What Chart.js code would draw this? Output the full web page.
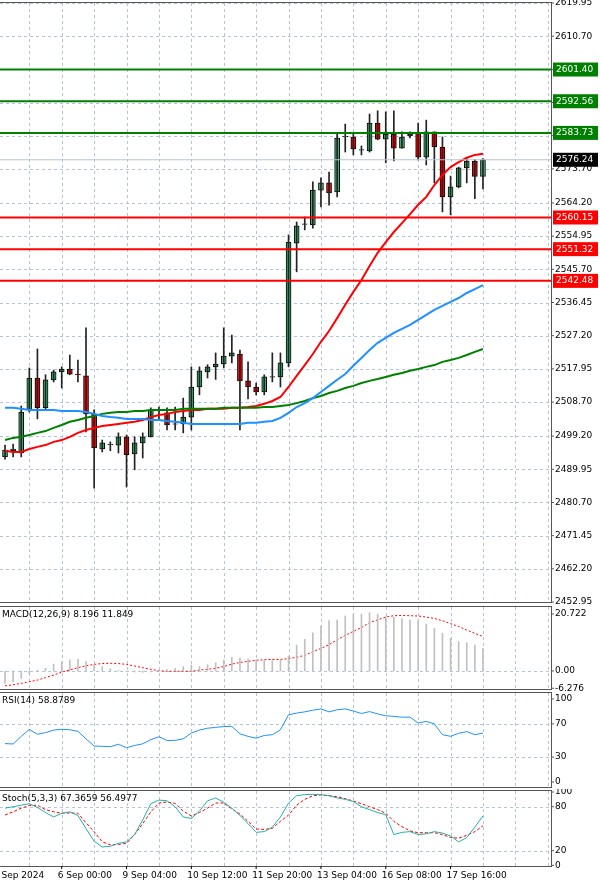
<!DOCTYPE html>
<html>
<head>
<meta charset="utf-8">
<script src="https://cdn.jsdelivr.net/npm/chart.js@4.4.1/dist/chart.umd.min.js"></script>
<style>
  html, body { margin: 0; padding: 0; background: #fff; }
  #wrap { position: relative; width: 600px; height: 886px; overflow: hidden; }
  .pane { position: absolute; left: 0; width: 600px; }
</style>
</head>
<body>
<div id="wrap">
  <div class="pane" style="top:0;height:605px"><canvas id="c-main"></canvas></div>
  <div class="pane" style="top:605px;height:86px"><canvas id="c-macd"></canvas></div>
  <div class="pane" style="top:691px;height:98px"><canvas id="c-rsi"></canvas></div>
  <div class="pane" style="top:789px;height:97px"><canvas id="c-stoch"></canvas></div>
</div>
<script>
// -- data --------------------------------------------------------------

const opens  = [2493.4,2495.1,2494.5,2506.5,2515.4,2507.1,2514.9,2517.1,2517.9,2516.5,2516.0,2505.4,2495.6,2496.8,2496.7,2499.0,2494.2,2497.3,2499.0,2506.5,2505.7,2502.6,2502.6,2504.5,2512.9,2517.1,2518.5,2519.3,2521.5,2522.1,2514.6,2512.9,2511.5,2515.6,2515.7,2519.6,2553.0,2558.2,2558.1,2567.8,2569.8,2567.3,2582.6,2582.6,2578.9,2578.7,2586.5,2582.0,2583.4,2579.5,2582.9,2583.7,2577.0,2584.0,2579.8,2565.9,2568.7,2574.0,2575.9,2571.6];
const highs  = [2496.7,2497.0,2507.6,2518.2,2523.5,2516.3,2517.6,2518.5,2521.8,2520.4,2529.4,2506.5,2498.1,2497.6,2500.1,2499.5,2499.0,2500.1,2507.1,2507.3,2507.1,2507.3,2509.8,2518.5,2518.5,2519.1,2522.4,2529.4,2527.4,2523.2,2519.9,2514.0,2516.3,2522.4,2522.4,2555.3,2558.9,2560.3,2570.1,2571.2,2572.8,2583.7,2586.2,2583.4,2580.1,2589.0,2589.9,2589.6,2589.9,2584.0,2584.0,2586.5,2587.3,2584.0,2582.6,2571.7,2574.2,2576.6,2576.3,2576.6];
const lows   = [2492.8,2493.4,2493.4,2505.9,2504.0,2506.5,2514.3,2512.6,2516.3,2514.3,2500.4,2484.7,2494.8,2495.1,2494.5,2485.0,2489.8,2493.1,2499.0,2503.7,2500.9,2500.9,2500.1,2500.9,2510.7,2515.4,2515.0,2518.2,2519.6,2500.9,2509.6,2510.7,2510.7,2514.3,2512.9,2518.5,2545.0,2556.7,2557.2,2563.1,2563.6,2565.9,2578.4,2577.6,2577.6,2578.4,2581.8,2575.4,2575.9,2579.5,2582.3,2576.2,2574.8,2569.8,2561.7,2560.9,2568.4,2569.8,2565.4,2568.1];
const closes = [2495.3,2495.6,2505.9,2515.4,2507.1,2514.9,2517.1,2517.9,2516.5,2516.3,2505.4,2495.9,2497.3,2496.9,2499.0,2494.0,2497.3,2499.0,2506.5,2506.6,2502.3,2502.5,2504.5,2512.9,2517.4,2518.5,2519.3,2521.5,2522.4,2514.6,2512.9,2511.5,2515.7,2515.8,2519.6,2553.3,2557.8,2558.4,2567.8,2569.8,2567.0,2582.3,2582.8,2579.3,2579.1,2586.5,2582.0,2583.4,2579.5,2582.6,2583.4,2577.0,2584.0,2579.8,2565.9,2568.7,2574.0,2575.9,2571.6,2576.2];

const maRed   = [2495.1,2494.8,2494.8,2495.6,2496.2,2496.7,2497.6,2498.1,2499.0,2500.1,2500.9,2501.5,2502.0,2502.3,2502.6,2502.9,2503.2,2503.7,2504.5,2505.1,2505.4,2505.9,2506.2,2506.5,2506.5,2506.8,2506.8,2506.8,2507.1,2507.1,2507.3,2507.6,2508.2,2509.0,2510.1,2512.9,2516.0,2519.0,2522.1,2525.5,2528.5,2532.1,2535.8,2539.4,2542.7,2546.6,2550.3,2553.3,2556.1,2558.6,2561.1,2563.7,2565.9,2569.2,2572.0,2574.2,2575.6,2576.8,2577.6,2577.9];
const maBlue  = [2507.1,2507.1,2506.8,2506.5,2506.5,2506.5,2506.5,2506.2,2506.2,2506.2,2505.9,2505.4,2504.8,2504.5,2504.3,2504.0,2504.0,2504.0,2503.7,2503.7,2503.4,2503.2,2502.9,2502.6,2502.6,2502.6,2502.6,2502.6,2502.6,2502.6,2502.9,2502.9,2503.2,2503.4,2504.3,2505.7,2507.3,2508.4,2509.8,2511.5,2513.2,2514.9,2516.5,2518.8,2521.0,2523.2,2525.2,2526.6,2528.0,2529.1,2530.2,2531.6,2533.0,2534.4,2535.5,2536.6,2537.7,2539.1,2540.2,2541.3];
const maGreen = [2498.1,2498.7,2499.0,2499.5,2500.1,2500.6,2501.5,2502.3,2503.2,2503.7,2504.3,2504.8,2505.4,2505.7,2505.9,2505.9,2506.2,2506.2,2506.5,2506.5,2506.5,2506.5,2506.8,2506.8,2506.8,2506.8,2506.8,2507.1,2507.1,2507.1,2507.1,2507.1,2507.3,2507.3,2507.6,2507.9,2508.4,2509.0,2509.8,2510.4,2511.2,2511.8,2512.6,2513.2,2514.0,2514.6,2515.1,2515.7,2516.3,2516.8,2517.4,2517.9,2518.5,2519.0,2519.9,2520.4,2521.0,2521.8,2522.7,2523.5];

const resistLevels = [2601.40, 2592.56, 2583.73];
const supportLevels = [2560.15, 2551.32, 2542.48];
const lastPrice = 2576.24;
const priceTicks = [2619.95,2610.70,2601.45,2592.20,2582.95,2573.70,2564.20,2554.95,2545.70,2536.45,2527.20,2517.95,2508.70,2499.20,2489.95,2480.70,2471.45,2462.20,2452.95];

const macdHist = [-4.5,-3.9,-2.7,-1.2,0.3,1.0,2.5,3.4,4.0,4.2,3.4,2.5,1.6,0.8,0.2,-0.2,-0.4,-0.5,-0.3,0.1,0.5,1.0,1.6,2.2,1.6,2.3,3.0,4.0,5.0,4.7,4.3,4.1,3.9,3.8,4.0,5.5,9.4,11.5,13.9,16.4,18.3,18.5,20.0,20.6,20.7,21.2,20.7,20.0,19.5,19.1,18.5,18.3,17.1,15.5,13.7,11.9,10.7,10.3,9.4,8.2];
const macdSignal = [-5.4,-5.0,-4.5,-3.9,-3.3,-2.4,-1.5,-0.4,0.4,1.2,1.9,2.4,2.7,2.8,2.7,2.4,1.8,1.2,0.6,0.1,-0.1,-0.1,-0.1,-0.1,0.3,0.6,1.0,1.6,2.5,3.1,3.5,3.9,4.1,4.2,4.2,4.5,5.0,5.7,7.0,8.2,9.6,11.3,13.0,14.4,15.8,17.6,18.6,19.6,20.1,20.2,20.1,20.0,19.6,19.1,18.3,17.2,16.2,14.9,13.7,12.5];
const macdTicks = [20.722, 0.00, -6.276];

const rsi = [46.3,45.8,55,63.3,57.5,59.5,62.5,63.5,63,61,52,43.3,43,42.5,45.5,41.3,44,46,51,54.5,50,50.2,52,59,62.5,64.8,65.8,66.8,67,58,55,52.8,56,57,62.8,81,83,84.5,86.5,88,84.5,87,88,85.5,82.5,84.8,82,79.8,79,78.1,78.1,71,73,70,57,55,58.7,60.7,57,58.9];
const rsiTicks = [100, 70, 30, 0];

const stochMain = [78,80,82,84,79,72,66,71,73,68,50,33,25,26,30,32,42,62,84,89,88,80,66,64,74,88,92,86,78,68,57,45,46,52,66,85,95,96.5,96.8,96.5,95,92,90,87,80,76,72,69,42,45,46,42,43,46,44,40,32,38,52,67.4];
const stochSignal = [68.6,73,78,81.5,82,76,73,71,71.5,71,58,46,32,28,28.5,30,42,57,73,85,86.5,84.5,74,67.3,72,78,85,85,77,70,60,49.5,49,50.5,60,68.6,82,90,95,96,95,93.6,91,87.7,84,80,76,71,60,52.7,47,44.5,44.5,44.5,42,38,37,41,46,54];
const stochTicks = [100, 80, 20, 0];

const timeLabels = ['4 Sep 2024','6 Sep 00:00','9 Sep 04:00','10 Sep 12:00','11 Sep 20:00','13 Sep 04:00','16 Sep 08:00','17 Sep 16:00'];
const timeLabelAt = [-1, 7, 15, 23, 31, 39, 47, 55];

// -- shared look --------------------------------------------------------

Chart.defaults.animation = false;
Chart.defaults.responsive = true;
Chart.defaults.maintainAspectRatio = false;
Chart.defaults.plugins.legend.display = false;
Chart.defaults.plugins.tooltip.enabled = false;

const FONT = '9px "DejaVu Sans", Tahoma, sans-serif';
const GRID = '#b4c4da';
const X_MIN = -0.62, X_MAX = 67.4;
const vGrid = [];
for (let i = -1; i <= 67; i += 4) vGrid.push(i);

const idx = opens.map((_, i) => i);
const pts = arr => arr.map((v, i) => ({ x: i, y: v }));
const hline = v => [{ x: X_MIN - 1, y: v }, { x: X_MAX + 1, y: v }];

function paneFrame(ticks, dashed, fmt, title) {
  return {
    id: 'frame',
    beforeDatasetsDraw(chart) {
      const { ctx, chartArea: a, scales: { x, y } } = chart;
      ctx.save();
      ctx.strokeStyle = GRID;
      ctx.lineWidth = 1;
      ctx.setLineDash([3, 3]);
      vGrid.forEach(i => {
        const px = Math.round(x.getPixelForValue(i)) + 0.5;
        if (px < a.left || px > a.right) return;
        ctx.beginPath(); ctx.moveTo(px, a.top); ctx.lineTo(px, a.bottom); ctx.stroke();
      });
      dashed.forEach(v => {
        const py = Math.round(y.getPixelForValue(v)) + 0.5;
        ctx.beginPath(); ctx.moveTo(a.left, py); ctx.lineTo(a.right, py); ctx.stroke();
      });
      ctx.restore();
    },
    afterDraw(chart) {
      const { ctx, chartArea: a, scales: { y } } = chart;
      ctx.save();
      ctx.strokeStyle = '#555';
      ctx.lineWidth = 1;
      ctx.strokeRect(a.left - 1.5, a.top - 0.5, a.right - a.left + 2, a.bottom - a.top + 1);
      ctx.fillStyle = '#000';
      ctx.font = FONT;
      ctx.textBaseline = 'middle';
      ticks.forEach(v => {
        const py = y.getPixelForValue(v);
        ctx.beginPath(); ctx.moveTo(a.right, py); ctx.lineTo(a.right + 3, py); ctx.stroke();
        ctx.fillText(fmt(v), a.right + 4, py);
      });
      if (title) {
        ctx.textBaseline = 'top';
        ctx.fillText(title, 2, a.top + 3);
      }
      ctx.restore();
    },
  };
}

const xScale = { type: 'linear', display: false, offset: false, min: X_MIN, max: X_MAX };

// -- main price pane ----------------------------------------------------

const levelLines = resistLevels.map(v => ({ type: 'line', data: hline(v), borderColor: '#008000', borderWidth: 2, pointRadius: 0 }))
  .concat(supportLevels.map(v => ({ type: 'line', data: hline(v), borderColor: '#ff0000', borderWidth: 2, pointRadius: 0 })));

new Chart(document.getElementById('c-main'), {
  data: {
    datasets: [
      { type: 'line', data: hline(lastPrice), borderColor: '#b7c4d6', borderWidth: 1, pointRadius: 0 },
      ...levelLines,
      { type: 'line', data: pts(maBlue), borderColor: '#1e90ff', borderWidth: 2, pointRadius: 0 },
      { type: 'line', data: pts(maGreen), borderColor: '#008000', borderWidth: 2, pointRadius: 0 },
      { type: 'line', data: pts(maRed), borderColor: '#ff0000', borderWidth: 2, pointRadius: 0 },
      {
        type: 'bar', grouped: false, barThickness: 1,
        data: idx.map(i => ({ x: i, y: [lows[i], highs[i]] })),
        backgroundColor: '#222',
      },
      {
        type: 'bar', grouped: false, barThickness: 5,
        data: idx.map(i => ({ x: i, y: [opens[i], closes[i]] })),
        backgroundColor: idx.map(i => closes[i] >= opens[i] ? '#3cb371' : '#ff0000'),
        borderColor: '#000', borderWidth: 1, borderSkipped: false,
      },
    ],
  },
  options: {
    layout: { padding: { top: 3, bottom: 3, left: 0, right: 49 } },
    scales: { x: xScale, y: { display: false, min: 2452.95, max: 2619.95 } },
  },
  plugins: [paneFrame(priceTicks, priceTicks, v => v.toFixed(2), null), {
    id: 'levelTags',
    afterDraw(chart) {
      const { ctx, chartArea: a, scales: { y } } = chart;
      ctx.save();
      ctx.font = FONT;
      ctx.textBaseline = 'middle';
      const tag = (v, bg) => {
        const py = y.getPixelForValue(v);
        ctx.fillStyle = bg;
        ctx.fillRect(a.right + 2, py - 7, 45, 14);
        ctx.fillStyle = '#fff';
        ctx.fillText(v.toFixed(2), a.right + 5, py);
      };
      resistLevels.forEach(v => tag(v, '#008000'));
      supportLevels.forEach(v => tag(v, '#ff0000'));
      tag(lastPrice, '#000');
      ctx.restore();
    },
  }],
});

// -- MACD ----------------------------------------------------------------

new Chart(document.getElementById('c-macd'), {
  data: {
    datasets: [
      { type: 'bar', grouped: false, barThickness: 1, data: pts(macdHist), backgroundColor: '#c0c0c0' },
      { type: 'line', data: pts(macdSignal), borderColor: '#ff0000', borderWidth: 1, borderDash: [2, 2], pointRadius: 0 },
    ],
  },
  options: {
    layout: { padding: { top: 2, bottom: 2, left: 0, right: 49 } },
    scales: { x: xScale, y: { display: false, min: -6.55, max: 23.27 } },
  },
  plugins: [paneFrame(macdTicks, [0], v => v === 0 ? '0.00' : v.toFixed(3), 'MACD(12,26,9) 8.196 11.849')],
});

// -- RSI -----------------------------------------------------------------

new Chart(document.getElementById('c-rsi'), {
  data: {
    datasets: [
      { type: 'line', data: pts(rsi), borderColor: '#1e90ff', borderWidth: 1, pointRadius: 0 },
    ],
  },
  options: {
    layout: { padding: { top: 2, bottom: 2, left: 0, right: 49 } },
    scales: { x: xScale, y: { display: false, min: -6, max: 107.2 } },
  },
  plugins: [paneFrame(rsiTicks, [70, 30], v => String(v), 'RSI(14) 58.8789')],
});

// -- Stochastic ------------------------------------------------------------

new Chart(document.getElementById('c-stoch'), {
  data: {
    datasets: [
      { type: 'line', data: pts(stochMain), borderColor: '#20b2aa', borderWidth: 1, pointRadius: 0 },
      { type: 'line', data: pts(stochSignal), borderColor: '#ff0000', borderWidth: 1, borderDash: [3, 2], pointRadius: 0 },
    ],
  },
  options: {
    layout: { padding: { top: 2, bottom: 20, left: 0, right: 49 } },
    scales: { x: xScale, y: { display: false, min: -0.9, max: 101.4 } },
  },
  plugins: [paneFrame(stochTicks, [80, 20], v => String(v), 'Stoch(5,3,3) 67.3659 56.4977'), {
    id: 'timeAxis',
    afterDraw(chart) {
      const { ctx, chartArea: a, scales: { x } } = chart;
      ctx.save();
      ctx.font = FONT;
      ctx.fillStyle = '#000';
      ctx.textBaseline = 'middle';
      timeLabels.forEach((t, k) => {
        const px = x.getPixelForValue(timeLabelAt[k]);
        ctx.beginPath(); ctx.moveTo(px, a.bottom); ctx.lineTo(px, a.bottom + 3); ctx.stroke();
        ctx.fillText(t, px - 4, a.bottom + 10);
      });
      ctx.restore();
    },
  }],
});
</script>
</body>
</html>
